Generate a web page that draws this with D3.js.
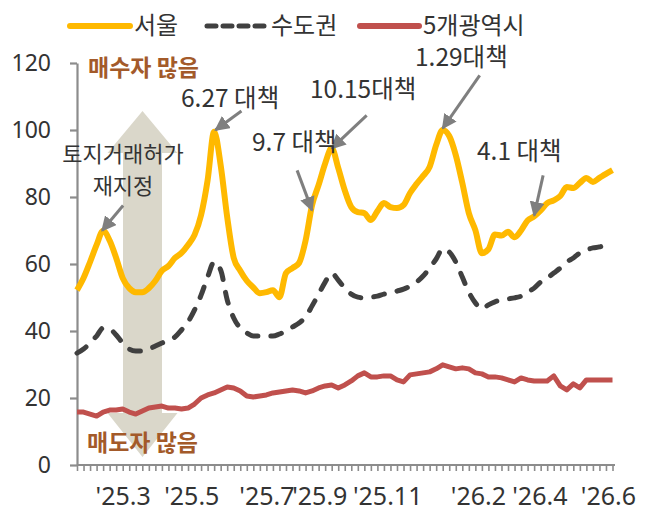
<!DOCTYPE html>
<html>
<head>
<meta charset="utf-8">
<script src="https://cdn.jsdelivr.net/npm/d3@7"></script>
<style>
  html, body { margin: 0; padding: 0; background: #fff; }
  svg { display: block; font-family: "Noto Sans CJK KR", "Noto Sans", sans-serif; }
</style>
</head>
<body>
<svg id="chart" width="664" height="517"></svg>
<script>
// ---------- data ----------
const seriesNames = ["서울", "수도권", "5개광역시"];

const seoul = [52.2, 55.8, 60.6, 65.7, 69.9, 67.0, 61.8, 55.8, 52.8, 51.6,
  51.6, 52.8, 55.0, 58.0, 59.4, 61.8, 63.3, 65.7, 68.7, 74.6,
  85.0, 99.5, 89.5, 74.0, 61.8, 58.0, 55.0, 53.0, 51.3, 51.6,
  52.2, 50.1, 57.3, 58.8, 60.3, 67.0, 77.6, 83.6, 90.0, 94.6,
  88.7, 82.0, 77.0, 75.5, 75.2, 73.1, 75.8, 78.2, 77.0, 76.7,
  77.6, 81.2, 83.9, 86.3, 89.0, 95.5, 100.0, 98.2, 92.5, 84.2,
  75.2, 70.1, 63.2, 64.4, 68.8, 68.5, 69.6, 68.0, 70.0, 73.0,
  74.2, 76.0, 78.2, 79.0, 80.3, 83.0, 82.7, 84.2, 85.7, 84.5,
  85.7, 86.9, 88.0];

const capital = [33.4, 34.6, 36.4, 38.5, 40.9, 40.6, 38.8, 36.4, 34.6, 34.0,
  34.0, 34.6, 35.5, 36.4, 37.3, 38.2, 40.3, 42.7, 46.3, 50.7,
  56.1, 60.6, 58.2, 49.3, 43.9, 40.9, 39.4, 38.5, 38.5, 38.5,
  38.5, 39.1, 40.0, 41.2, 42.4, 44.2, 47.5, 51.0, 54.6, 57.3,
  55.2, 52.8, 51.0, 50.1, 49.9, 50.1, 50.4, 51.0, 51.3, 51.9,
  52.5, 53.4, 54.6, 56.4, 58.8, 61.5, 64.5, 63.6, 60.6, 56.1,
  51.6, 48.4, 46.6, 47.8, 48.7, 49.3, 49.6, 49.9, 50.4, 51.6,
  52.8, 54.6, 55.8, 57.3, 58.8, 60.6, 61.8, 63.3, 64.2, 64.8,
  65.1, 65.7, 66.3];

const metro = [15.8, 15.8, 15.2, 14.6, 15.8, 16.4, 16.4, 16.7, 15.8, 15.2,
  16.1, 17.0, 17.3, 17.6, 17.0, 17.0, 16.7, 17.0, 18.2, 20.0,
  20.9, 21.5, 22.4, 23.3, 23.0, 22.1, 20.6, 20.3, 20.6, 20.9,
  21.5, 21.8, 22.1, 22.4, 22.1, 21.5, 22.1, 23.0, 23.6, 23.9,
  23.0, 23.9, 25.1, 26.6, 27.5, 26.3, 26.3, 26.6, 26.6, 25.4,
  24.8, 26.9, 27.2, 27.5, 27.8, 28.7, 29.9, 29.3, 28.7, 29.0,
  28.7, 27.5, 27.2, 26.3, 26.3, 26.0, 25.4, 24.8, 26.0, 25.4,
  25.1, 25.1, 25.1, 26.6, 23.6, 22.4, 24.2, 23.0, 25.4, 25.4,
  25.4, 25.4, 25.4];

const xTickLabels = ["'25.3", "'25.5", "'25.7", "'25.9", "'25.11", "'26.2", "'26.4", "'26.6"];
const xTickLabelWeeks = [7, 17.5, 29, 37.1, 47.5, 61.4, 70.8, 81.3];
const yTicks = [0, 20, 40, 60, 80, 100, 120];

// annotations
const policyNotes = ["6.27 대책", "9.7 대책", "10.15대책", "1.29대책", "4.1 대책"];
const policyWeeks = [21.2, 36, 39, 56, 70];
const policyValues = [100, 76, 94.5, 100.5, 74.5];
const zoneNote = ["토지거래허가", "재지정"];
const zoneWeek = 4;
const zoneValue = 70;

// ---------- layout ----------
const svg = d3.select("#chart");
const n = seoul.length;
const x = d3.scaleLinear().domain([0, n - 1]).range([77, 612.5]);
const y = d3.scaleLinear().domain([0, 120]).range([465, 63]);

const axisColor = "#8c8c8c";
const textColor = "#333333";
const brown = "#a35a2a";

// big double-headed arrow (buyers / sellers)
const ax0 = 107.5, ax1 = 177.5, sx0 = 123, sx1 = 162, cx = 142.5;
const arrowPath = `M${cx},111 L${ax1},153 L${sx1},153 L${sx1},413 L${ax1},413 L${cx},457 L${ax0},413 L${sx0},413 L${sx0},153 L${ax0},153 Z`;
svg.append("path").attr("d", arrowPath).attr("fill", "#d8d5c7").attr("opacity", 0.95);

// axes
const yAxis = d3.axisLeft(y).tickValues(yTicks).tickSize(7).tickSizeOuter(0).tickPadding(19);
const gy = svg.append("g").attr("transform", "translate(77,0)").call(yAxis);
gy.select(".domain").attr("stroke", axisColor).attr("stroke-width", 2.2);
gy.selectAll(".tick line").attr("stroke", axisColor).attr("stroke-width", 2.2);
gy.selectAll(".tick text").attr("fill", textColor).style("font-size", "23px")
  .style("font-family", "'Noto Sans', sans-serif").attr("dy", "0.34em");

const xAxis = d3.axisBottom(x).tickValues(d3.range(n)).tickSize(6).tickSizeOuter(0).tickFormat("");
const gx = svg.append("g").attr("transform", "translate(0,465)").call(xAxis);
gx.select(".domain").attr("stroke", axisColor).attr("stroke-width", 2.2).attr("d", "M77,0H615");
gx.selectAll(".tick line").attr("stroke", axisColor).attr("stroke-width", 1.6);

const xLabelAxis = d3.axisBottom(x).tickValues(xTickLabelWeeks).tickSize(0).tickPadding(22)
  .tickFormat((d, i) => xTickLabels[i]);
const gxl = svg.append("g").attr("transform", "translate(0,465)").call(xLabelAxis);
gxl.select(".domain").remove();
gxl.selectAll(".tick text").attr("fill", textColor).style("font-size", "25px")
  .style("font-family", "'Noto Sans', sans-serif");

// lines
const lineSmooth = d3.line().x((d, i) => x(i)).y(d => y(d)).curve(d3.curveMonotoneX);
const lineStraight = d3.line().x((d, i) => x(i)).y(d => y(d));

svg.append("path").attr("d", lineStraight(metro)).attr("fill", "none")
  .attr("stroke", "#c0504d").attr("stroke-width", 5).attr("stroke-linejoin", "round");
svg.append("path").attr("d", lineSmooth(capital)).attr("fill", "none")
  .attr("stroke", "#404040").attr("stroke-width", 5).attr("stroke-linecap", "round")
  .attr("stroke-dasharray", "11,13");
svg.append("path").attr("d", lineSmooth(seoul)).attr("fill", "none")
  .attr("stroke", "#ffb900").attr("stroke-width", 6).attr("stroke-linejoin", "round");

// arrow marker
const defs = svg.append("defs");
defs.append("marker").attr("id", "ah").attr("viewBox", "0 0 10 10").attr("refX", 9).attr("refY", 5)
  .attr("markerWidth", 5).attr("markerHeight", 5).attr("orient", "auto")
  .attr("markerUnits", "strokeWidth")
  .append("path").attr("d", "M0,0 L10,5 L0,10 Z").attr("fill", "#7f7f7f");

const arrowFrom = [[26, -19], [-15, -40], [35, -33], [37, -53], [9, -40]];
policyWeeks.forEach((w, i) => {
  const tx = x(w), ty = y(policyValues[i]);
  svg.append("line").attr("x1", tx + arrowFrom[i][0]).attr("y1", ty + arrowFrom[i][1])
    .attr("x2", tx).attr("y2", ty).attr("stroke", "#7f7f7f").attr("stroke-width", 3)
    .attr("marker-end", "url(#ah)");
});
{
  const tx = x(zoneWeek) - 1, ty = y(zoneValue);
  svg.append("line").attr("x1", tx + 21).attr("y1", ty - 25).attr("x2", tx).attr("y2", ty)
    .attr("stroke", "#7f7f7f").attr("stroke-width", 3).attr("marker-end", "url(#ah)");
}

// annotation texts
const notePos = [[181, 107], [252, 151], [310, 98], [415, 66], [477, 160]];
policyNotes.forEach((t, i) => {
  svg.append("text").attr("x", notePos[i][0]).attr("y", notePos[i][1])
    .attr("fill", textColor).style("font-size", "24.5px").text(t);
});
svg.append("text").attr("x", 123).attr("y", 162).attr("text-anchor", "middle")
  .attr("fill", textColor).style("font-size", "22px").text(zoneNote[0]);
svg.append("text").attr("x", 123).attr("y", 194).attr("text-anchor", "middle")
  .attr("fill", textColor).style("font-size", "22px").text(zoneNote[1]);

svg.append("text").attr("x", 88).attr("y", 76).attr("fill", brown)
  .style("font-size", "23px").style("font-weight", "bold").text("매수자 많음");
svg.append("text").attr("x", 87).attr("y", 451).attr("fill", brown)
  .style("font-size", "23px").style("font-weight", "bold").text("매도자 많음");

// legend
const legendItems = [
  { name: seriesNames[0], x0: 70, x1: 130, color: "#ffb900", dash: null, w: 6 },
  { name: seriesNames[1], x0: 207, x1: 267, color: "#404040", dash: "9,7", w: 5 },
  { name: seriesNames[2], x0: 360, x1: 419, color: "#c0504d", dash: null, w: 6 }
];
const lg = svg.append("g");
legendItems.forEach(it => {
  lg.append("line").attr("x1", it.x0).attr("x2", it.x1).attr("y1", 26).attr("y2", 26)
    .attr("stroke", it.color).attr("stroke-width", it.w).attr("stroke-linecap", "round")
    .attr("stroke-dasharray", it.dash);
  lg.append("text").attr("x", it.x1 + 4).attr("y", 34).attr("fill", textColor)
    .style("font-size", "24px").text(it.name);
});
</script>
</body>
</html>
